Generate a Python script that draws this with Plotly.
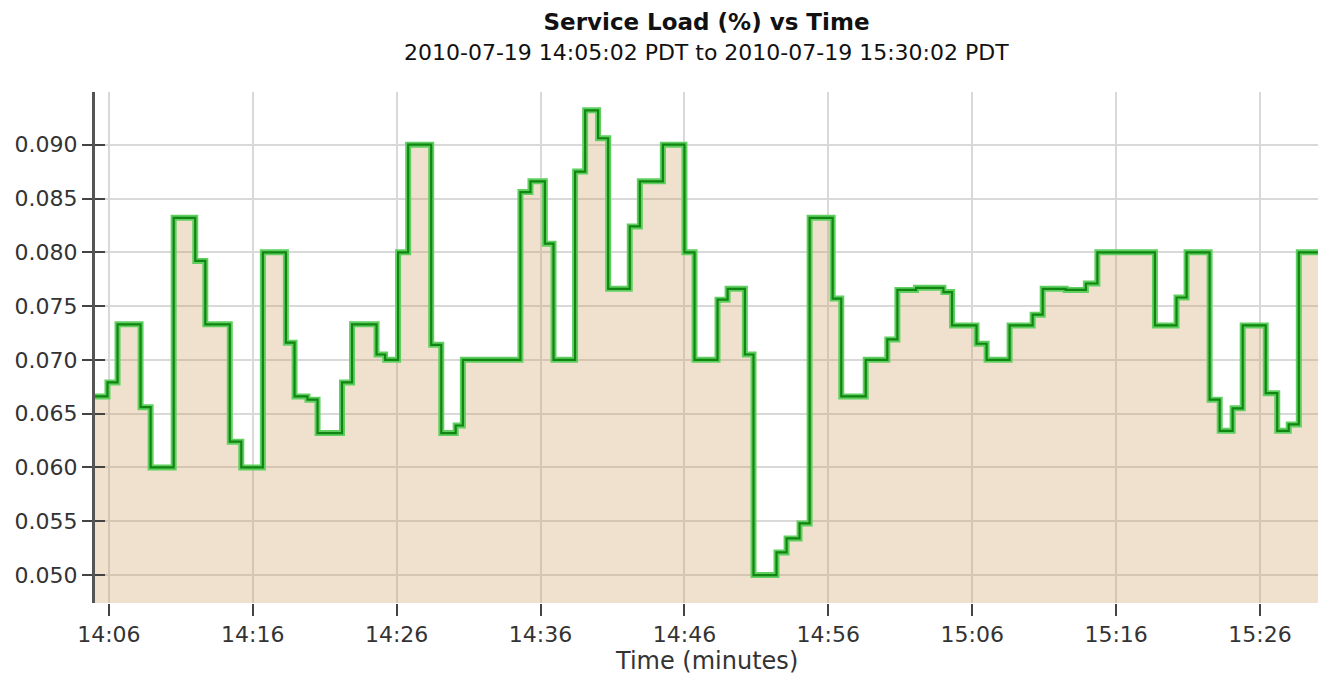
import pandas as pd
import plotly.graph_objects as go

# Step start times, in minutes after 14:06:00 on 2010-07-19
step_minutes = [
    -0.97, -0.1, 0.6, 2.2, 2.9, 4.5, 6.0, 6.7, 8.4, 9.2,
    10.7, 12.3, 12.9, 13.8, 14.5, 16.2, 16.9, 18.6, 19.2, 20.1,
    20.8, 22.4, 23.1, 24.1, 24.6, 28.6, 29.3, 30.3, 30.9, 32.4,
    33.1, 34.0, 34.7, 36.2, 36.9, 38.5, 40.0, 40.7, 42.3, 43.0,
    44.2, 44.8, 46.4, 47.1, 48.0, 48.7, 50.3, 50.9, 52.6, 54.1,
    54.8, 56.1, 58.0, 58.6, 60.3, 61.0, 62.6, 64.2, 64.9, 66.5,
    67.9, 68.7, 72.7, 74.2, 74.9, 76.5, 77.2, 78.1, 78.8, 80.4,
    81.2, 82.0, 82.7, 84.03,
]
load_values = [
    0.0666, 0.0679, 0.0733, 0.0656, 0.0600, 0.0832, 0.0792, 0.0733, 0.0624, 0.0600,
    0.0800, 0.0716, 0.0666, 0.0663, 0.0632, 0.0679, 0.0733, 0.0705, 0.0700, 0.0800,
    0.0900, 0.0714, 0.0632, 0.0639, 0.0700, 0.0856, 0.0866, 0.0808, 0.0700, 0.0875,
    0.0932, 0.0906, 0.0766, 0.0824, 0.0866, 0.0900, 0.0800, 0.0700, 0.0756, 0.0766,
    0.0705, 0.0500, 0.0521, 0.0534, 0.0548, 0.0832, 0.0757, 0.0666, 0.0700, 0.0719,
    0.0765, 0.0767, 0.0763, 0.0732, 0.0715, 0.0700, 0.0732, 0.0742, 0.0766, 0.0765,
    0.0771, 0.0800, 0.0732, 0.0758, 0.0800, 0.0663, 0.0634, 0.0655, 0.0732, 0.0669,
    0.0634, 0.0640, 0.0800, 0.0800,
]
y_ticks = [0.050, 0.055, 0.060, 0.065, 0.070, 0.075, 0.080, 0.085, 0.090]

title_text = "Service Load (%) vs Time"
subtitle_text = "2010-07-19 14:05:02 PDT to 2010-07-19 15:30:02 PDT"
x_title = "Time (minutes)"

base = pd.Timestamp("2010-07-19 14:06:00")
times = [base + pd.Timedelta(minutes=m) for m in step_minutes]
x_start = pd.Timestamp("2010-07-19 14:05:02")
x_end = pd.Timestamp("2010-07-19 15:30:02")

FONT = "DejaVu Sans"

fig = go.Figure()
# tan area
fig.add_trace(go.Scatter(
    x=times, y=load_values, mode="lines", line=dict(shape="hv", width=0),
    fill="tozeroy", fillcolor="rgba(205,155,92,0.30)", hoverinfo="skip",
    showlegend=False,
))
# light green halo
fig.add_trace(go.Scatter(
    x=times, y=load_values, mode="lines",
    line=dict(shape="hv", width=6, color="#5fcf5f"), showlegend=False,
))
# dark green core
fig.add_trace(go.Scatter(
    x=times, y=load_values, mode="lines",
    line=dict(shape="hv", width=2.2, color="#118511"), showlegend=False,
))
# invisible trace for inside y ticks
fig.add_trace(go.Scatter(
    x=[x_start], y=[y_ticks[0]], yaxis="y2", mode="markers",
    marker=dict(opacity=0), showlegend=False, hoverinfo="skip",
))

fig.update_layout(
    width=1328, height=677,
    margin=dict(l=95, r=10, t=92, b=74),
    paper_bgcolor="white", plot_bgcolor="white",
    font=dict(family=FONT, size=22, color="#333333"),
    title=dict(
        text="<b>" + title_text + "</b>", x=0.5, xref="paper", xanchor="center",
        y=1 - 22 / 677, yanchor="middle",
        font=dict(family=FONT, size=23, color="#111111"),
    ),
    xaxis=dict(
        type="date", range=[x_start, x_end],
        tick0=pd.Timestamp("2010-07-19 14:06:00"), dtick=600000,
        tickformat="%H:%M", ticks="outside", ticklen=12, tickwidth=2,
        tickcolor="#444444", showgrid=True, gridcolor="#d9d9d9", gridwidth=1.5,
        showline=False, zeroline=False,
        tickfont=dict(family=FONT, size=22, color="#333333"),
    ),
    yaxis=dict(
        range=[0.0474, 0.0949], tickvals=y_ticks, tickformat=".3f",
        ticks="outside", ticklen=10, tickwidth=2, tickcolor="#444444",
        showline=True, linecolor="#555555", linewidth=3,
        showgrid=True, gridcolor="#d9d9d9", gridwidth=1.5, zeroline=False,
        tickfont=dict(family=FONT, size=22, color="#333333"),
    ),
    yaxis2=dict(
        overlaying="y", side="left", range=[0.0474, 0.0949], tickvals=y_ticks,
        ticks="inside", ticklen=10, tickwidth=2, tickcolor="#444444",
        showticklabels=False, showgrid=False, zeroline=False, showline=False,
    ),
    annotations=[
        dict(text=subtitle_text, xref="paper", yref="paper", x=0.5, y=1 + 40 / 511,
             xanchor="center", yanchor="middle", showarrow=False,
             font=dict(family=FONT, size=22, color="#111111")),
        dict(text=x_title, xref="paper", yref="paper", x=0.5, y=-(58 / 511),
             xanchor="center", yanchor="middle", showarrow=False,
             font=dict(family=FONT, size=24, color="#333333")),
    ],
)

fig.write_html(
    "out.html",
    config={"displayModeBar": False},
    post_script="document.body.style.margin='0';document.body.style.padding='0';",
)
